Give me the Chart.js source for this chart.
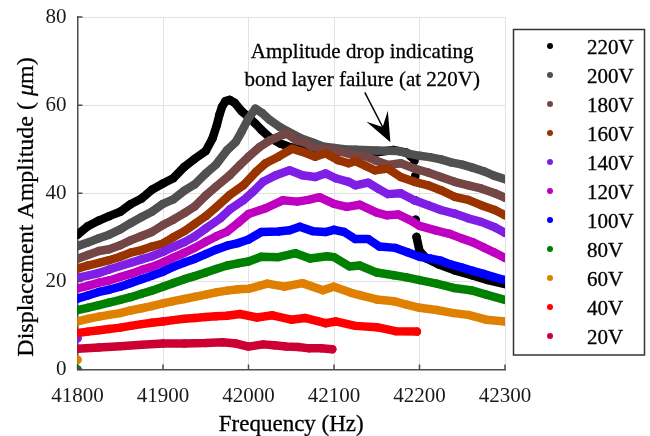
<!DOCTYPE html>
<html>
<head>
<meta charset="utf-8">
<script src="https://cdn.jsdelivr.net/npm/chart.js@4.4.1/dist/chart.umd.min.js"></script>
<style>
  html, body { margin: 0; padding: 0; background: #ffffff; }
  #wrap { width: 650px; height: 436px; }
</style>
</head>
<body>
<div id="wrap"><canvas id="chart" width="650" height="436"></canvas></div>
<script>
// 軸刻度
const freqTicks = [41800, 41900, 42000, 42100, 42200, 42300];
const ampTicks = [0, 20, 40, 60, 80];

// 各電壓的量測資料 [頻率 Hz, 振幅 μm]，null 代表斷點
const s220V = [[41800, 30.6], [41812, 32.5], [41825, 33.8], [41837, 34.8], [41850, 35.8], [41862, 37.5], [41875, 38.8], [41887, 40.8], [41900, 42.2], [41912, 43.4], [41925, 46.0], [41937, 47.8], [41950, 49.6], [41958, 52.5], [41963, 55.5], [41966, 57.8], [41969, 59.6], [41973, 60.9], [41978, 61.2], [41984, 60.5], [41992, 58.6], [42000, 57.3], [42008, 55.8], [42015, 54.4], [42025, 52.6], [42037, 51.3], [42050, 50.4], [42075, 49.6], [42100, 49.4], [42125, 49.6], [42150, 49.3], [42170, 49.8], [42185, 49.2], [42190, 48.3], [42191, null], [42194, 47.3], [42194, null], [42195, 43.9], [42195, null], [42195, 38.4], [42195, null], [42195.5, 34.0], [42196, null], [42196.5, 30.1], [42200, 26.9], [42208, 25.2], [42222, 23.9], [42241, 22.5], [42261, 21.4], [42280, 20.3], [42300, 19.4]];
const s200V = [[41800, 28.0], [41812, 28.8], [41825, 29.8], [41837, 30.6], [41850, 31.8], [41862, 33.2], [41875, 34.6], [41887, 35.8], [41900, 37.6], [41912, 38.6], [41925, 40.6], [41937, 42.0], [41950, 44.5], [41962, 46.5], [41975, 49.8], [41985, 51.6], [41992, 54.0], [42000, 57.0], [42008, 59.2], [42016, 58.2], [42025, 56.6], [42037, 55.0], [42050, 53.6], [42062, 52.4], [42075, 51.5], [42087, 50.6], [42100, 50.3], [42112, 50.0], [42125, 49.9], [42150, 49.7], [42175, 49.6], [42187, 49.0], [42200, 48.5], [42212, 48.2], [42225, 47.7], [42237, 47.0], [42250, 46.5], [42262, 45.8], [42275, 45.0], [42287, 44.0], [42300, 43.2]];
const s180V = [[41800, 25.1], [41812, 26.0], [41825, 26.9], [41837, 27.3], [41850, 28.2], [41862, 29.3], [41875, 30.3], [41887, 31.2], [41900, 32.8], [41912, 34.0], [41925, 35.5], [41937, 37.0], [41950, 39.5], [41962, 41.5], [41978, 44.1], [41990, 46.4], [42000, 48.3], [42013, 50.5], [42025, 52.0], [42039, 53.2], [42045, 53.5], [42056, 52.0], [42066, 51.5], [42075, 50.5], [42087, 50.1], [42100, 49.8], [42117, 49.0], [42125, 48.7], [42137, 48.4], [42148, 47.5], [42163, 46.4], [42178, 46.8], [42194, 45.6], [42210, 44.7], [42225, 43.7], [42241, 42.6], [42257, 41.8], [42272, 41.1], [42288, 40.0], [42300, 39.0]];
const s160V = [[41800, 22.9], [41812, 23.6], [41825, 24.2], [41837, 24.8], [41850, 25.6], [41862, 26.5], [41875, 27.1], [41887, 27.9], [41900, 28.6], [41912, 30.0], [41925, 31.4], [41937, 33.0], [41950, 34.8], [41962, 36.8], [41978, 39.6], [41994, 41.8], [42009, 44.9], [42020, 46.8], [42035, 48.3], [42051, 50.1], [42063, 49.4], [42078, 48.3], [42090, 49.1], [42105, 47.5], [42117, 46.8], [42125, 47.3], [42137, 46.2], [42148, 45.2], [42163, 45.6], [42178, 43.7], [42194, 42.6], [42210, 41.8], [42225, 40.7], [42241, 39.2], [42257, 38.5], [42272, 37.3], [42288, 36.2], [42300, 35.0]];
const s140V = [[41800, 7.1], [41800, null], [41800, 20.8], [41812, 21.3], [41825, 21.9], [41837, 22.7], [41850, 23.5], [41862, 24.2], [41875, 25.0], [41887, 25.7], [41900, 26.7], [41912, 27.8], [41925, 28.9], [41937, 30.2], [41950, 32.0], [41967, 34.3], [41978, 36.3], [41994, 38.4], [42005, 40.3], [42017, 42.6], [42032, 44.1], [42048, 45.2], [42063, 44.1], [42078, 43.7], [42090, 44.5], [42102, 43.4], [42117, 42.6], [42125, 41.8], [42140, 42.4], [42152, 41.0], [42163, 39.8], [42178, 40.0], [42194, 38.4], [42210, 37.3], [42225, 36.2], [42241, 35.4], [42257, 34.3], [42272, 33.5], [42288, 32.3], [42300, 31.0]];
const s120V = [[41800, 18.4], [41812, 19.0], [41825, 19.7], [41837, 20.2], [41850, 21.0], [41862, 21.7], [41875, 22.6], [41887, 23.3], [41900, 24.3], [41912, 25.4], [41925, 26.5], [41937, 27.6], [41950, 29.0], [41962, 30.2], [41975, 31.3], [41988, 33.3], [42000, 35.3], [42020, 36.6], [42040, 38.4], [42057, 38.1], [42070, 38.5], [42083, 39.1], [42100, 37.6], [42115, 36.9], [42130, 37.4], [42150, 35.6], [42162, 35.0], [42175, 35.2], [42189, 33.9], [42200, 32.6], [42220, 31.5], [42235, 30.8], [42250, 29.7], [42262, 28.9], [42275, 27.7], [42287, 26.6], [42300, 25.3]];
const s100V = [[41800, 16.1], [41812, 16.8], [41825, 17.6], [41837, 18.1], [41850, 18.8], [41862, 19.6], [41875, 20.5], [41887, 21.3], [41900, 22.2], [41912, 23.3], [41925, 24.3], [41937, 25.1], [41950, 26.2], [41962, 27.2], [41975, 28.1], [41988, 28.7], [42000, 29.5], [42015, 31.2], [42035, 31.3], [42048, 31.6], [42060, 32.4], [42075, 31.4], [42090, 31.2], [42100, 31.7], [42112, 31.2], [42125, 29.6], [42140, 29.6], [42153, 27.9], [42172, 27.6], [42186, 26.6], [42200, 25.6], [42212, 25.2], [42225, 24.7], [42237, 23.8], [42250, 23.1], [42262, 22.4], [42275, 21.7], [42287, 21.0], [42300, 20.3]];
const s80V = [[41800, 0], [41800, null], [41800, 13.5], [41812, 14.0], [41825, 14.6], [41837, 15.2], [41850, 15.8], [41862, 16.4], [41875, 17.2], [41887, 17.9], [41900, 18.8], [41912, 19.6], [41925, 20.5], [41937, 21.2], [41950, 22.0], [41962, 22.8], [41975, 23.6], [41988, 24.1], [42000, 24.5], [42015, 25.6], [42035, 25.5], [42055, 26.4], [42072, 25.2], [42092, 25.7], [42100, 25.5], [42118, 23.4], [42130, 23.6], [42150, 22.0], [42170, 21.4], [42185, 20.9], [42200, 20.3], [42220, 19.5], [42240, 18.5], [42260, 18.0], [42278, 17.0], [42300, 15.8]];
const s60V = [[41800, 2.2], [41800, null], [41800, 10.9], [41812, 11.5], [41825, 12.0], [41837, 12.4], [41850, 12.8], [41862, 13.4], [41875, 13.9], [41887, 14.4], [41900, 15.0], [41912, 15.5], [41925, 16.0], [41937, 16.5], [41950, 17.0], [41962, 17.5], [41975, 17.9], [41988, 18.2], [42000, 18.3], [42022, 19.5], [42042, 18.8], [42063, 19.6], [42087, 18.0], [42100, 18.8], [42120, 17.4], [42130, 16.9], [42150, 15.9], [42170, 15.5], [42185, 14.7], [42200, 14.0], [42220, 13.5], [42240, 12.8], [42257, 12.4], [42278, 11.3], [42300, 10.9]];
const s40V = [[41800, 8.3], [41812, 8.6], [41825, 8.9], [41837, 9.2], [41850, 9.5], [41862, 9.9], [41875, 10.3], [41887, 10.6], [41900, 10.9], [41912, 11.2], [41925, 11.5], [41937, 11.7], [41950, 11.9], [41962, 12.1], [41975, 12.2], [41990, 12.6], [42010, 11.8], [42028, 12.3], [42050, 11.3], [42066, 11.7], [42090, 10.5], [42102, 10.9], [42125, 9.9], [42150, 9.6], [42172, 8.7], [42197, 8.6]];
const s20V = [[41800, 4.7], [41825, 5.0], [41850, 5.3], [41875, 5.6], [41900, 5.9], [41925, 5.9], [41950, 6.0], [41970, 6.2], [41985, 5.9], [42000, 5.2], [42017, 5.7], [42030, 5.5], [42044, 5.2], [42058, 5.1], [42071, 4.8], [42085, 4.8], [42098, 4.6]];

const seriesLabels = ['220V', '200V', '180V', '160V', '140V', '120V', '100V', '80V', '60V', '40V', '20V'];
const seriesData = [s220V, s200V, s180V, s160V, s140V, s120V, s100V, s80V, s60V, s40V, s20V];
const seriesColors = ['#000000', '#505050', '#744646', '#993300', '#7f1fe6', '#c000c0', '#0000ff', '#008000', '#e08000', '#ff0000', '#cc0033'];

const serif = "'Liberation Serif', 'Times New Roman', serif";

// 建立資料集：先畫 220V，最後畫 20V（在最上層）
const datasets = seriesLabels.map((label, i) => ({
    label: label,
    data: seriesData[i].map(p => ({ x: p[0], y: p[1] })),
    borderColor: seriesColors[i],
    backgroundColor: seriesColors[i],
    pointBackgroundColor: seriesColors[i],
    borderWidth: 8.5,
    borderCapStyle: 'round',
    borderJoinStyle: 'round',
    pointRadius: 4.2,
    pointBorderWidth: 0,
    tension: 0,
    spanGaps: false,
    order: seriesLabels.length - i
}));

// 文字略加描邊，接近原圖較粗的字
function boldText(ctx, text, x, y) {
    ctx.fillText(text, x, y);
    ctx.strokeText(text, x, y);
}

// 內向刻度、軸標題、註解與圖例
const overlay = {
    id: 'overlay',
    afterDatasetsDraw(chart) {
        const { ctx, scales: { x, y } } = chart;
        ctx.save();
        ctx.fillStyle = '#000';
        ctx.strokeStyle = '#000';
        ctx.lineWidth = 0.3;
        ctx.font = '21px ' + serif;
        ctx.textAlign = 'center';
        ctx.textBaseline = 'middle';
        const tx = x.getPixelForValue(42133);
        boldText(ctx, 'Amplitude drop indicating', tx, y.getPixelForValue(72.0));
        boldText(ctx, 'bond layer failure (at 220V)', tx, y.getPixelForValue(65.6));

        // 箭頭
        const sx = x.getPixelForValue(42136), sy = y.getPixelForValue(62.9);
        const ex = x.getPixelForValue(42166), ey = y.getPixelForValue(51.6);
        const len = Math.hypot(ex - sx, ey - sy);
        const dx = (ex - sx) / len, dy = (ey - sy) / len;
        const nx = -dy, ny = dx;
        const L = 29, W = 12, notch = 17;
        ctx.lineWidth = 1.5;
        ctx.beginPath();
        ctx.moveTo(sx, sy);
        ctx.lineTo(ex - dx * notch, ey - dy * notch);
        ctx.stroke();
        ctx.beginPath();
        ctx.moveTo(ex, ey);
        ctx.lineTo(ex - dx * L + nx * W, ey - dy * L + ny * W);
        ctx.lineTo(ex - dx * notch, ey - dy * notch);
        ctx.lineTo(ex - dx * L - nx * W, ey - dy * L - ny * W);
        ctx.closePath();
        ctx.fill();
        ctx.restore();
    },
    afterDraw(chart) {
        const { ctx, chartArea: a, scales: { x, y } } = chart;
        ctx.save();

        // 內向刻度線
        ctx.strokeStyle = '#4d4d4d';
        ctx.lineWidth = 1.5;
        ctx.beginPath();
        freqTicks.forEach(v => {
            const px = x.getPixelForValue(v);
            ctx.moveTo(px, a.bottom);
            ctx.lineTo(px, a.bottom - 5);
        });
        ampTicks.forEach(v => {
            const py = y.getPixelForValue(v);
            ctx.moveTo(a.left, py);
            ctx.lineTo(a.left + 5, py);
        });
        ctx.stroke();

        ctx.fillStyle = '#000';
        ctx.strokeStyle = '#000';
        ctx.lineWidth = 0.3;

        // X 軸標題
        ctx.font = '23px ' + serif;
        ctx.textAlign = 'center';
        ctx.textBaseline = 'middle';
        boldText(ctx, 'Frequency (Hz)', (a.left + a.right) / 2, 425);

        // Y 軸標題（μ 為斜體）
        ctx.translate(26.5, 207);
        ctx.rotate(-Math.PI / 2);
        ctx.textAlign = 'left';
        const partA = 'Displacement Amplitude ( ';
        const partB = '\u03bc';
        const partC = 'm)';
        const upright = '24px ' + serif;
        const italic = 'italic 24px ' + serif;
        ctx.font = upright;
        const wA = ctx.measureText(partA).width;
        const wC = ctx.measureText(partC).width;
        ctx.font = italic;
        const wB = ctx.measureText(partB).width;
        let cx = -(wA + wB + wC) / 2;
        ctx.font = upright;
        boldText(ctx, partA, cx, 0);
        cx += wA;
        ctx.font = italic;
        boldText(ctx, partB, cx, 0);
        cx += wB;
        ctx.font = upright;
        boldText(ctx, partC, cx, 0);
        ctx.setTransform(1, 0, 0, 1, 0, 0);

        // 圖例
        ctx.strokeStyle = '#333';
        ctx.lineWidth = 1.5;
        ctx.strokeRect(513.5, 29.5, 131, 325.5);
        ctx.font = '21px ' + serif;
        ctx.textAlign = 'left';
        ctx.textBaseline = 'middle';
        seriesLabels.forEach((label, i) => {
            const rowY = 46 + i * 29;
            ctx.fillStyle = seriesColors[i];
            ctx.beginPath();
            ctx.arc(550, rowY, 3, 0, Math.PI * 2);
            ctx.fill();
            ctx.fillStyle = '#000';
            ctx.strokeStyle = '#000';
            ctx.lineWidth = 0.3;
            boldText(ctx, label, 587, rowY + 2);
        });
        ctx.restore();
    }
};

new Chart(document.getElementById('chart'), {
    type: 'line',
    data: { datasets: datasets },
    options: {
        responsive: false,
        animation: false,
        devicePixelRatio: 1,
        layout: { padding: { left: 0, right: 145, top: 17, bottom: 0 } },
        plugins: {
            legend: { display: false },
            tooltip: { enabled: false }
        },
        scales: {
            x: {
                type: 'linear',
                min: 41800,
                max: 42300,
                afterFit: s => { s.height = 66.5; s.paddingLeft = 0; s.paddingRight = 0; },
                ticks: {
                    stepSize: 100,
                    padding: 14,
                    color: '#1a1a1a',
                    font: { family: serif, size: 21 },
                    callback: v => String(v)
                },
                grid: { color: '#e2e2e2', lineWidth: 1, drawTicks: false },
                border: { color: '#4d4d4d', width: 1.5 }
            },
            y: {
                min: 0,
                max: 80,
                afterFit: s => { s.width = 77.5; s.paddingTop = 0; s.paddingBottom = 0; },
                ticks: {
                    stepSize: 20,
                    padding: 11,
                    color: '#1a1a1a',
                    font: { family: serif, size: 21 }
                },
                grid: { color: '#e2e2e2', lineWidth: 1, drawTicks: false },
                border: { color: '#4d4d4d', width: 1.5 }
            }
        }
    },
    plugins: [overlay]
});
</script>
</body>
</html>
